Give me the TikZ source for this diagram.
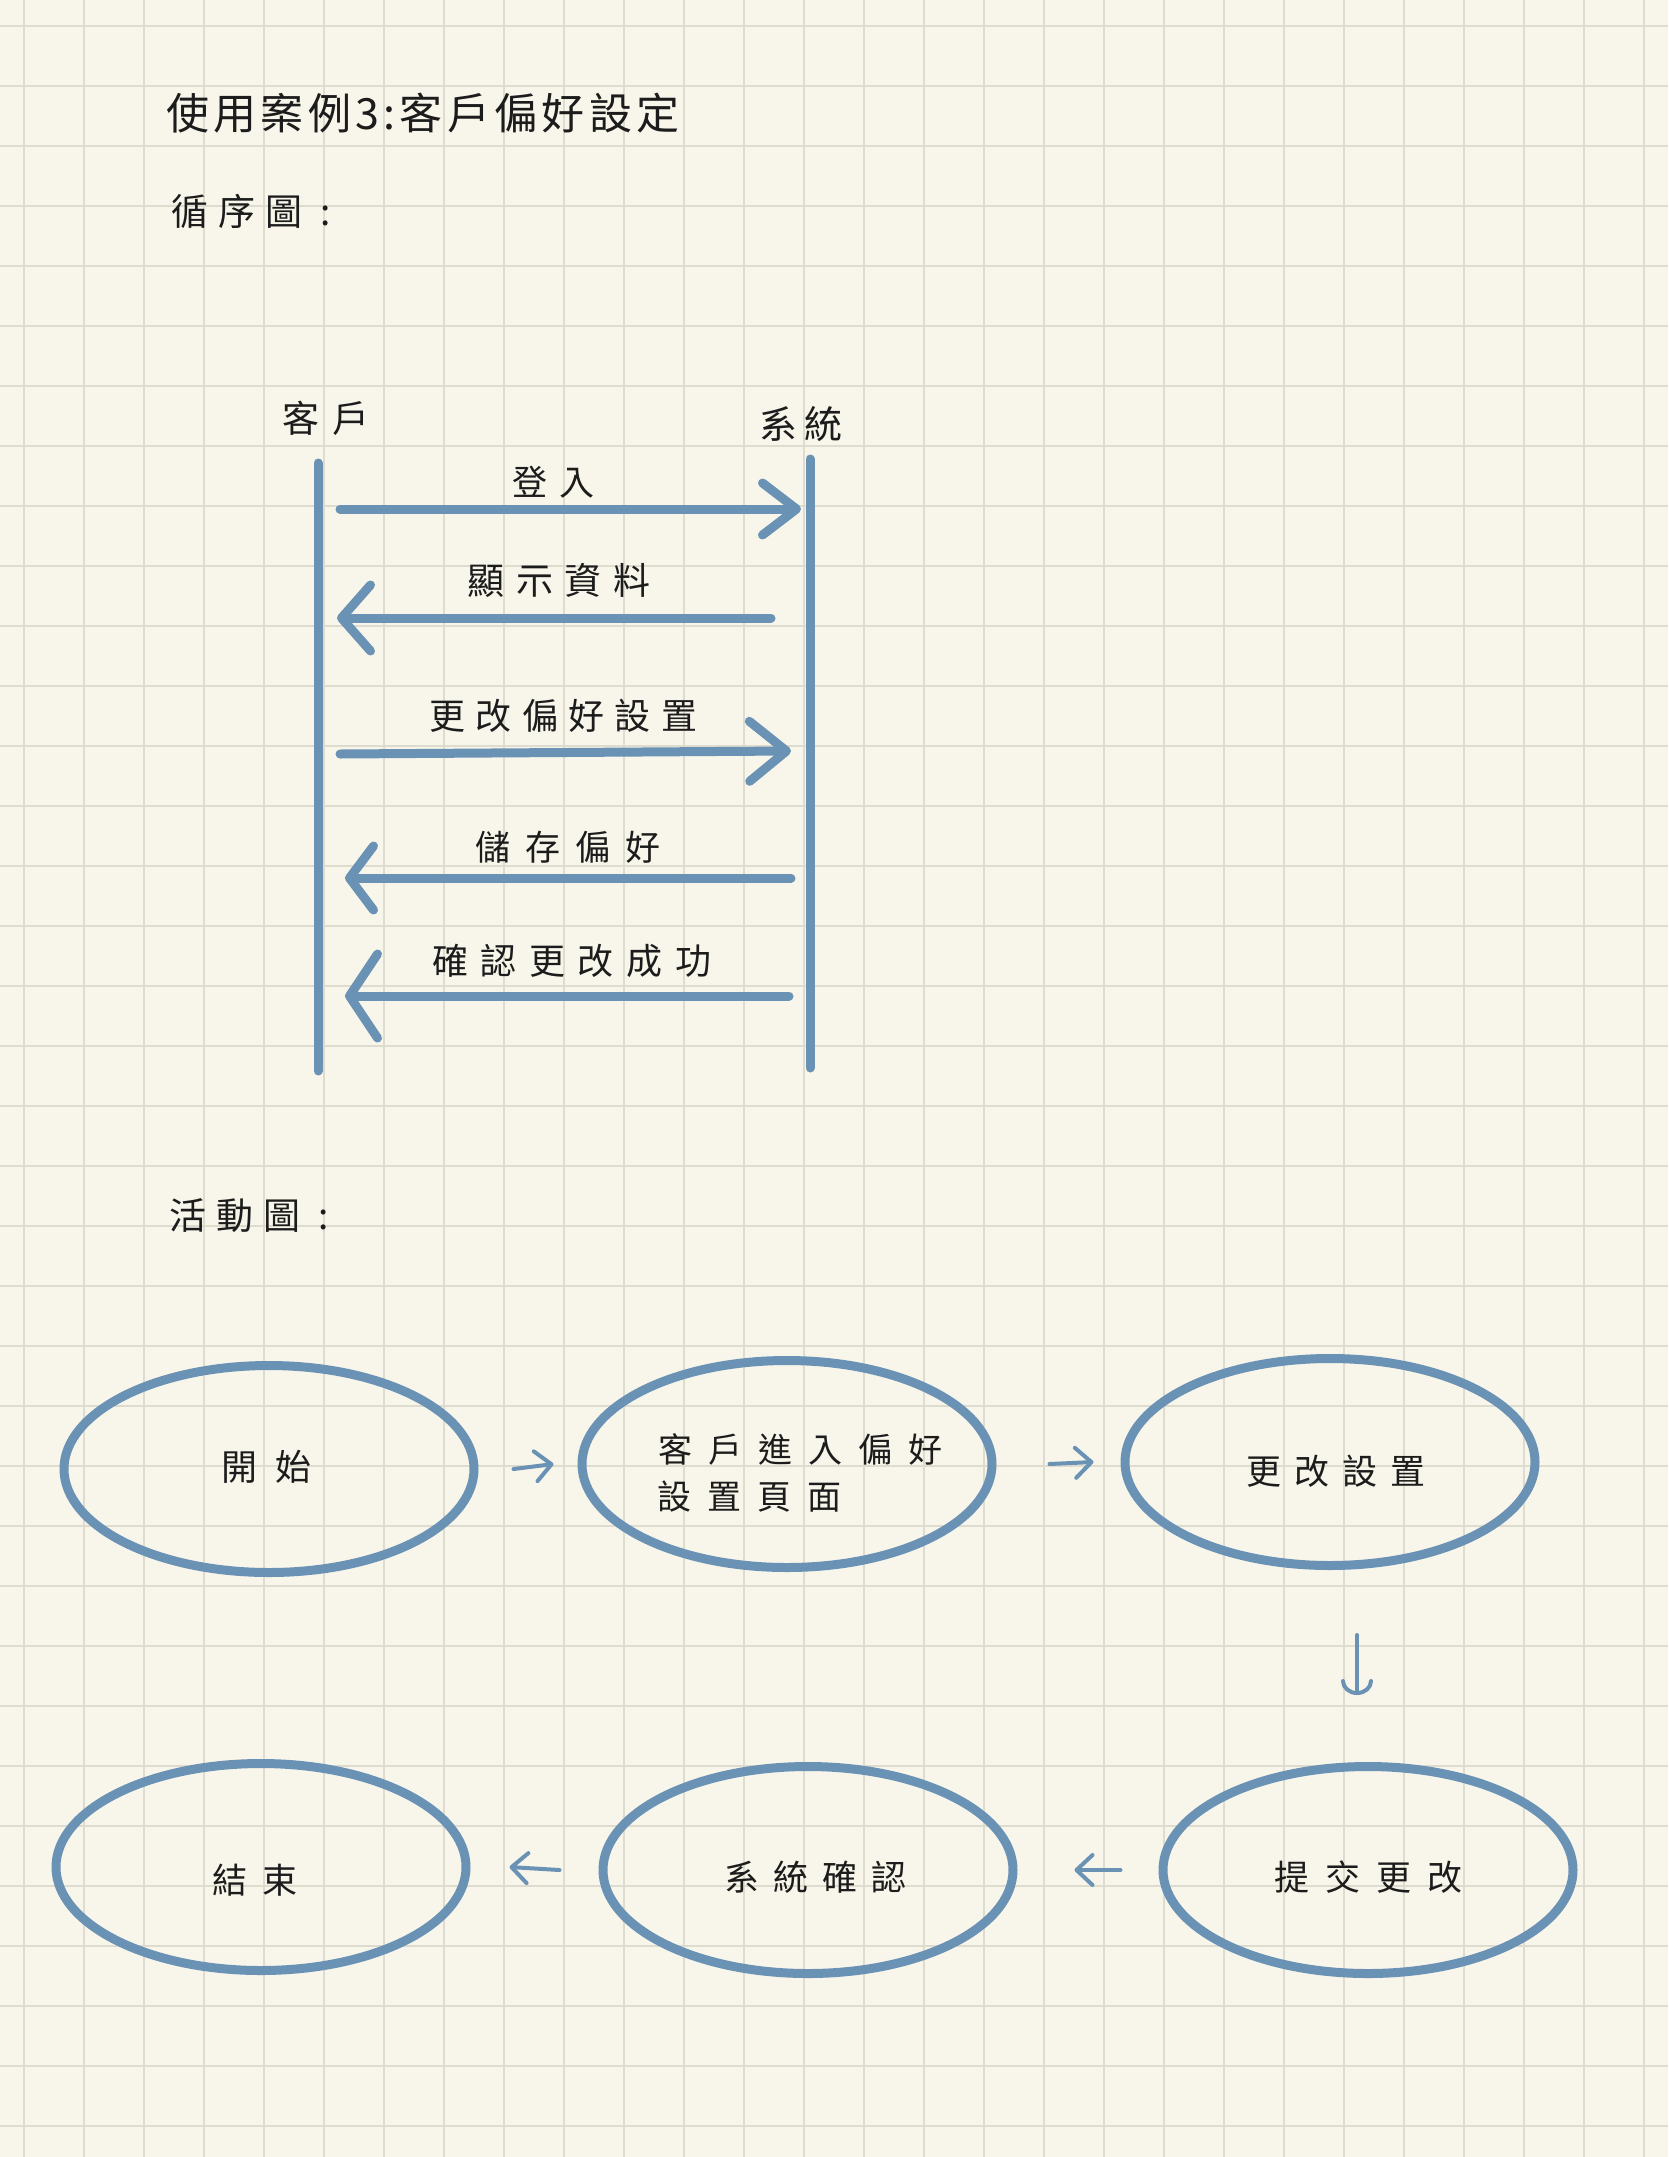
\documentclass[tikz,border=0pt]{standalone}
\usepackage{fontspec}
\newfontfamily\cjk{Noto Sans CJK TC}
\usetikzlibrary{arrows.meta,shapes.geometric}
\definecolor{paper}{RGB}{248,246,234}
\definecolor{gridc}{RGB}{222,219,207}
\definecolor{pen}{RGB}{106,146,181}
\definecolor{ink}{RGB}{28,28,28}
\tikzstyle{every node}=[inner sep=0pt,text=ink]
\tikzstyle{life}=[pen,line width=9pt,line cap=round]
\tikzstyle{gridline}=[gridc,line width=2.2pt]
\tikzset{
  hand/.style 2 args={font=\cjk\fontsize{#1}{#1}\selectfont\addfontfeature{LetterSpace=#2},anchor=west},
  msg/.style 2 args={pen,line width=9pt,line cap=round,-{Straight Barb[length=#1pt,width=#2pt,round]}},
  act/.style={draw=pen,line width=9pt,ellipse,minimum width=410pt,minimum height=207pt},
  flow/.style={pen,line width=4pt,line cap=round,-{Straight Barb[length=16pt,width=30pt,round]}}
}

\begin{document}
\begin{tikzpicture}[x=1pt,y=-1pt]
\fill[paper] (0,0) rectangle (1668,2157);
\useasboundingbox (0,0) rectangle (1668,2157);
\foreach \gx in {24,84,...,1644} \draw[gridline] (\gx,0) -- (\gx,2157);
\foreach \gy in {26,86,...,2126} \draw[gridline] (0,\gy) -- (1668,\gy);

\node[hand={43}{10}] (title) at (166,113) {使用案例3:客戶偏好設定};
\node[hand={37}{27}] (seqhead) at (171,211) {循序圖 :};
\node[hand={37}{27}] (acthead) at (169,1216) {活動圖 :};

% sequence diagram
\node[hand={37}{35}] (client) at (282,418) {客戶};
\node[hand={38}{18}] (system) at (759,424) {系統};
\coordinate (ct) at (318,463);
\coordinate (cb) at (318,1071);
\coordinate (st) at (810,459);
\coordinate (sb) at (810,1068);
\draw[life] (ct) -- (cb);
\draw[life] (st) -- (sb);

\coordinate (m1a) at (340,509); \coordinate (m1b) at (801,509);
\draw[msg={34}{52}] (m1a) -- (m1b);
\node[hand={35}{34}] (login) at (512,482) {登入};

\coordinate (m2a) at (771,618); \coordinate (m2b) at (337,618);
\draw[msg={29}{66}] (m2a) -- (m2b);
\node[hand={37}{32}] (show) at (467,580) {顯示資料};

\coordinate (m3a) at (340,754); \coordinate (m3b) at (791,751);
\draw[msg={37}{60}] (m3a) -- (m3b);
\node[hand={36}{29}] (edit) at (429,716) {更改偏好設置};

\coordinate (m4a) at (791,878); \coordinate (m4b) at (345,878);
\draw[msg={24}{64}] (m4a) -- (m4b);
\node[hand={35}{43}] (save) at (475,847) {儲存偏好};

\coordinate (m5a) at (789,996); \coordinate (m5b) at (345,996);
\draw[msg={28}{84}] (m5a) -- (m5b);
\node[hand={36}{35}] (done) at (432,961) {確認更改成功};

% activity diagram
\node[act] (start) at (269,1469) {};
\node[act] (enter) at (787,1464) {};
\node[act] (change) at (1330,1462) {};
\node[act] (submit) at (1368,1870) {};
\node[act] (confirm) at (808,1870) {};
\node[act] (finish) at (261,1867) {};

\node[hand={36}{50}] (startT) at (221,1467) {開始};
\node[hand={34}{47}] (enterT) at (658,1449) {客戶進入偏好};
\node[hand={34}{47}] (enterT2) at (657,1497) {設置頁面};
\node[hand={35}{37}] (changeT) at (1246,1471) {更改設置};
\node[hand={35}{46}] (submitT) at (1274,1877) {提交更改};
\node[hand={35}{40}] (confirmT) at (724,1877) {系統確認};
\node[hand={35}{43}] (finishT) at (212,1880) {結束};

\draw[flow] ([xshift=35pt]start.east) -- ([xshift=-24pt]enter.west);
\draw[flow] ([xshift=53pt]enter.east) -- ([xshift=-27pt]change.west);
\draw[flow,-{Arc Barb[length=14pt,width=32pt,round]}] ([xshift=27pt,yshift=-65pt]change.south) -- ([xshift=-11pt,yshift=67pt]submit.north);
\draw[flow] ([xshift=-38pt]submit.west) -- ([xshift=57pt]confirm.east);
\draw[flow] ([xshift=-39pt]confirm.west) -- ([xshift=39pt]finish.east);
\end{tikzpicture}
\end{document}
